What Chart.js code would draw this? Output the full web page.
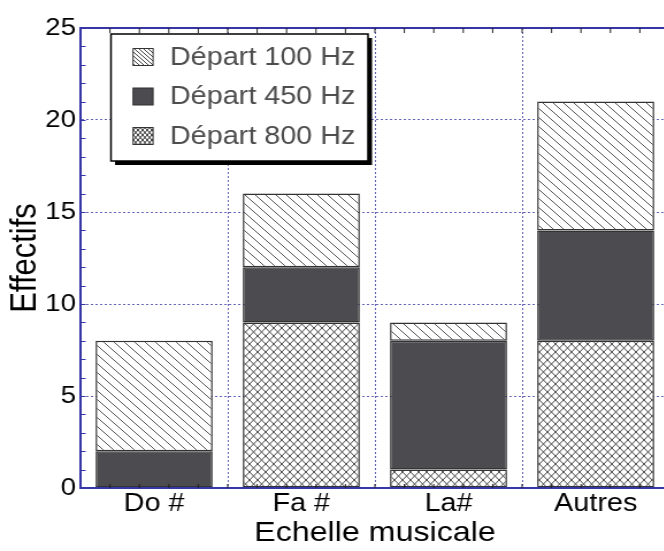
<!DOCTYPE html>
<html>
<head>
<meta charset="utf-8">
<script src="https://cdn.jsdelivr.net/npm/chart.js@4"></script>
<style>
html,body{margin:0;padding:0;background:#fff;overflow:hidden;}
/* the reference picture is stretched horizontally, so the whole chart is too */
#wrap{position:relative;width:584px;height:551px;transform:scaleX(1.15);transform-origin:0 0;}
</style>
</head>
<body>
<div id="wrap"><canvas id="chart"></canvas></div>
<script>
//======================================
// Data
//======================================

const categories = ["Do #", "Fa #", "La#", "Autres"];

const depart800 = [0, 9, 1, 8];
const depart450 = [2, 3, 7, 6];
const depart100 = [6, 4, 1, 7];

const seriesNames = ["Départ 800 Hz", "Départ 450 Hz", "Départ 100 Hz"];

const yTicks = [0, 5, 10, 15, 20, 25];


//======================================
// Styles
//======================================

const fontFamily = "'Liberation Sans', Arial, sans-serif";
const axisColor = "#3636a6";
const gridColor = "#6464b8";
const darkFill = "#4b4b50";


//======================================
// Hatch patterns
//======================================

function makeTile(w, h){
    const c = document.createElement("canvas");
    c.width = w;
    c.height = h;
    const g = c.getContext("2d");
    g.fillStyle = "#fff";
    g.fillRect(0, 0, w, h);
    return g;
}

function hatchPattern(size, color){
    const g = makeTile(size, size);
    g.strokeStyle = color;
    g.lineWidth = 1;
    g.beginPath();
    for(let dx = -size; dx <= size; dx += size){
        g.moveTo(dx, 0);
        g.lineTo(dx + size, size);
    }
    g.stroke();
    return g.createPattern(g.canvas, "repeat");
}

function crossPattern(w, h, color){
    const g = makeTile(w, h);
    g.strokeStyle = color;
    g.lineWidth = 1;
    g.beginPath();
    for(let dx = -w; dx <= w; dx += w){
        for(let dy = -h; dy <= h; dy += h){
            g.moveTo(dx, dy);
            g.lineTo(dx + w, dy + h);
            g.moveTo(dx + w, dy);
            g.lineTo(dx, dy + h);
        }
    }
    g.stroke();
    return g.createPattern(g.canvas, "repeat");
}

const barHatch = hatchPattern(9, "#555");
const barCross = crossPattern(7, 8, "#4a4a4a");

const legendFills = [hatchPattern(4, "#444"), darkFill, crossPattern(4, 5, "#333")];


//======================================
// Frame, minor ticks and legend
//======================================

function line(ctx, x1, y1, x2, y2){
    ctx.beginPath();
    ctx.moveTo(x1, y1);
    ctx.lineTo(x2, y2);
    ctx.stroke();
}

const framePlugin = {

    id: "frame",

    afterDatasetsDraw(chart){

        const {ctx, chartArea: a, scales: {x, y}} = chart;

        ctx.save();

        ctx.strokeStyle = axisColor;
        ctx.lineWidth = 2;
        line(ctx, a.left, a.top, a.right, a.top);
        line(ctx, a.left, a.bottom, a.right, a.bottom);

        // five minor ticks per category, top and bottom
        const step = (x.getPixelForValue(1) - x.getPixelForValue(0)) / 5;
        ctx.strokeStyle = "#222";
        ctx.lineWidth = 1;
        for(let px = a.left + step; px < a.right; px += step){
            line(ctx, px, a.top, px, a.top + 5);
            line(ctx, px, a.bottom, px, a.bottom - 4);
        }

        // unit ticks on the left axis
        ctx.strokeStyle = axisColor;
        for(let v = y.min + 1; v < y.max; v++){
            const py = Math.round(y.getPixelForValue(v)) + 0.5;
            line(ctx, a.left, py, a.left + 4.5, py);
        }

        ctx.restore();

    },

    afterDraw(chart){

        const ctx = chart.ctx;
        const box = {x: 96.5, y: 34, w: 223.5, h: 127};

        ctx.save();

        ctx.fillStyle = "#000";
        ctx.fillRect(box.x + 3.5, box.y + 4, box.w, box.h);
        ctx.fillStyle = "#fff";
        ctx.fillRect(box.x, box.y, box.w, box.h);
        ctx.strokeStyle = "#000";
        ctx.lineWidth = 1.5;
        ctx.strokeRect(box.x, box.y, box.w, box.h);

        ctx.font = "25px " + fontFamily;
        ctx.textBaseline = "middle";
        ctx.textAlign = "left";

        const names = seriesNames.slice().reverse();

        names.forEach((name, i) => {
            const cy = 57 + i * 39.5;
            ctx.fillStyle = legendFills[i];
            ctx.fillRect(115.7, cy - 8.5, 17.4, 17);
            ctx.strokeStyle = "#333";
            ctx.lineWidth = 1;
            ctx.strokeRect(115.7, cy - 8.5, 17.4, 17);
            ctx.fillStyle = "#4d4d4d";
            ctx.fillText(name, 147.8, cy + 1);
        });

        ctx.restore();

    }

};


//======================================
// Chart
//======================================

new Chart(document.getElementById("chart"), {

    type: "bar",

    data: {

        labels: categories,

        datasets: [
            {
                label: seriesNames[0],
                data: depart800,
                backgroundColor: barCross
            },
            {
                label: seriesNames[1],
                data: depart450,
                backgroundColor: darkFill
            },
            {
                label: seriesNames[2],
                data: depart100,
                backgroundColor: barHatch
            }
        ]

    },

    options: {

        responsive: true,
        maintainAspectRatio: false,
        animation: false,

        layout: {
            padding: {top: 28, right: 2, left: 0, bottom: 0}
        },

        datasets: {
            bar: {
                categoryPercentage: 1,
                barPercentage: 0.795,
                borderColor: "#333",
                borderWidth: 1.5,
                borderSkipped: false
            }
        },

        plugins: {
            legend: {display: false},
            tooltip: {enabled: false}
        },

        scales: {

            x: {
                stacked: true,
                grid: {color: gridColor, lineWidth: 1, drawTicks: false, offset: true},
                border: {color: axisColor, width: 2, dash: [2, 2]},
                ticks: {color: "#000", font: {family: fontFamily, size: 25}, padding: 1},
                title: {
                    display: true,
                    text: "Echelle musicale",
                    color: "#000",
                    font: {family: fontFamily, size: 28, lineHeight: 1},
                    padding: {top: 0, bottom: 4}
                },
                afterFit(scale){ scale.height = 63; }
            },

            y: {
                stacked: true,
                min: 0,
                max: 25,
                grid: {color: gridColor, lineWidth: 1, drawTicks: false},
                border: {color: axisColor, width: 2, dash: [2, 2]},
                ticks: {color: "#000", font: {family: fontFamily, size: 24}, padding: 4},
                afterBuildTicks(scale){ scale.ticks = yTicks.map(v => ({value: v})); },
                title: {
                    display: true,
                    text: "Effectifs",
                    color: "#000",
                    font: {family: fontFamily, size: 31, lineHeight: 1},
                    padding: {top: 7, bottom: 0}
                },
                afterFit(scale){ scale.width = 70; }
            }

        }

    },

    plugins: [framePlugin]

});
</script>
</body>
</html>
